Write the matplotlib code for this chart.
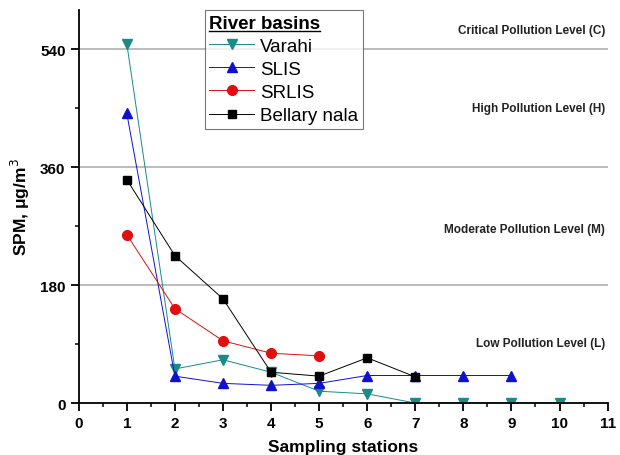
import matplotlib.pyplot as plt
from matplotlib.ticker import MultipleLocator
from matplotlib.lines import Line2D

plt.rcParams['font.family'] = ['Liberation Sans', 'DejaVu Sans']

stations_varahi = [1, 2, 3, 4, 5, 6, 7, 8, 9, 10]
varahi = [548, 52, 66, 47, 18, 14, 0, 0, 0, 0]
stations_slis = [1, 2, 3, 4, 5, 6, 7, 8, 9]
slis = [442, 41, 30, 27, 30, 42, 42, 42, 42]
stations_srlis = [1, 2, 3, 4, 5]
srlis = [257, 144, 95, 76, 72]
stations_bellary = [1, 2, 3, 4, 5, 6, 7]
bellary = [341, 225, 159, 47, 41, 69, 40]

levels = [180, 360, 540]
level_labels = [("Critical Pollution Level (C)", 570),
                ("High Pollution Level (H)", 450),
                ("Moderate Pollution Level (M)", 265),
                ("Low Pollution Level (L)", 92)]

fig = plt.figure(figsize=(6.2, 4.56), dpi=100)
ax = fig.add_axes([0.127, 0.114, 0.853, 0.862])

for lv in levels:
    ax.axhline(lv, color='#b0b0b0', lw=1.2, zorder=0)

ax.plot(stations_varahi, varahi, color='#1a8a8a', lw=0.7, marker='v', ms=7, label='Varahi')
ax.plot(stations_slis, slis, color='#1010d0', lw=0.7, marker='^', ms=7, label='SLIS')
ax.plot(stations_srlis, srlis, color='#e01010', lw=0.7, marker='o', ms=7, label='SRLIS')
ax.plot(stations_bellary, bellary, color='black', lw=0.7, marker='s', ms=6, label='Bellary nala')

for txt, y in level_labels:
    ax.text(10.95, y, txt, ha='right', va='center', fontsize=8.5, fontweight='bold', color='#222222')

ax.set_xlim(0, 11)
ax.set_ylim(0, 600)
ax.xaxis.set_major_locator(MultipleLocator(1))
ax.xaxis.set_minor_locator(MultipleLocator(0.5))
ax.yaxis.set_major_locator(MultipleLocator(180))
ax.yaxis.set_minor_locator(MultipleLocator(90))
ax.spines['top'].set_visible(False)
ax.spines['right'].set_visible(False)
ax.spines['left'].set_linewidth(1.3)
ax.spines['bottom'].set_linewidth(1.3)
ax.tick_params(which='major', length=6, width=1.3, labelsize=11)
ax.tick_params(which='minor', length=3, width=1.1)
for lbl in ax.get_xticklabels() + ax.get_yticklabels():
    lbl.set_fontweight('bold')

ax.set_xlabel('Sampling stations', fontsize=12.5, fontweight='bold', labelpad=6)
ax.set_ylabel('SPM, μg/m$^3$', fontsize=12.5, fontweight='bold', labelpad=6)

leg = ax.legend(loc='upper left', bbox_to_anchor=(0.238, 1.0), fontsize=13.5,
                title='River basins', frameon=True, fancybox=False,
                edgecolor='#555555', handlelength=2.4, borderpad=0.25,
                labelspacing=0.32, handletextpad=0.3, borderaxespad=0.0)
leg.get_title().set_fontweight('bold')
leg.get_title().set_fontsize(13.5)
leg._legend_box.align = 'left'
leg.get_frame().set_linewidth(0.8)

# underline the legend title
fig.canvas.draw()
bb = leg.get_title().get_window_extent().transformed(fig.transFigure.inverted())
uy = bb.y0 + 0.002
fig.add_artist(Line2D([bb.x0, bb.x1], [uy, uy], color='black', lw=1.0,
                      transform=fig.transFigure))

fig.savefig('out.png', dpi=100)
